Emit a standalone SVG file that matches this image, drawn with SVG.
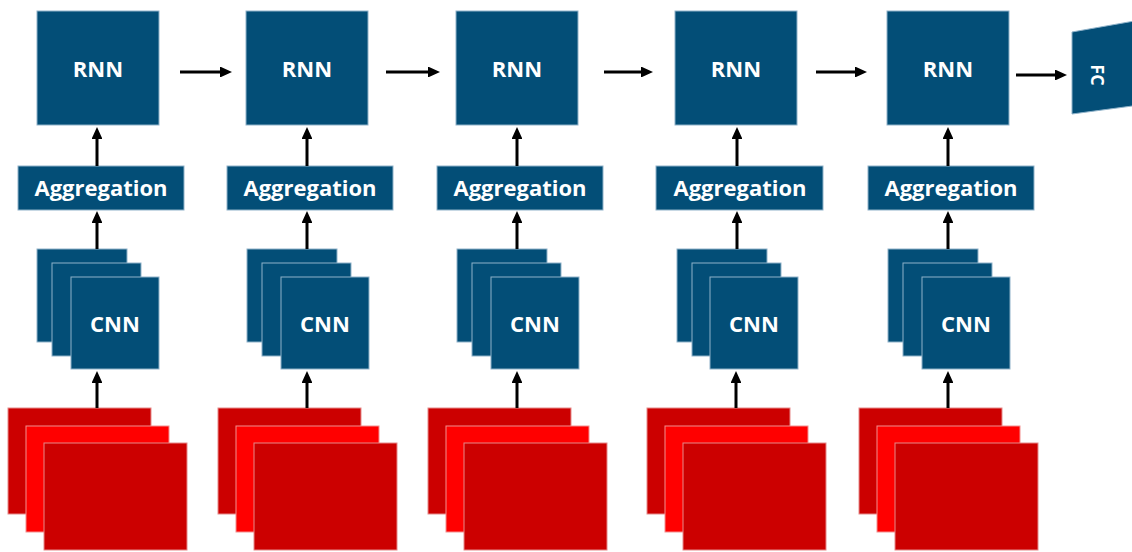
<svg xmlns="http://www.w3.org/2000/svg" width="1132" height="552" viewBox="0 0 1132 552">
<defs>
<style>
.b{fill:#034e77;stroke:#8fb2c9;stroke-width:1}
.rd{fill:#cc0000;stroke:#e58a8a;stroke-width:1}
.rb{fill:#ff0000;stroke:#f29090;stroke-width:1}
.t{font-family:"Open Sans","Liberation Sans",sans-serif;font-weight:bold;fill:#ffffff;text-anchor:middle}
.a{stroke:#000;stroke-width:3;fill:none}
</style>
<marker id="ah" viewBox="0 -5 12 10" refX="1" refY="0" markerWidth="12" markerHeight="10" markerUnits="userSpaceOnUse" orient="auto">
<path d="M0,-5.5 L12,0 L0,5.5 z" fill="#000"/>
</marker>
</defs>
<rect width="1132" height="552" fill="#ffffff"/>

<g id="col1">
<g id="rnn1"><rect class="b" x="37" y="11" width="122" height="114"/><text class="t" x="98" y="77" font-size="22">RNN</text></g>
<g id="agg1"><rect class="b" x="18" y="166" width="166" height="44"/><text class="t" x="101" y="196" font-size="22">Aggregation</text></g>
<g id="cnn1"><rect class="b" x="37" y="249" width="90" height="93"/><rect class="b" x="52" y="263" width="89" height="93"/><rect class="b" x="71" y="277" width="88" height="92"/><text class="t" x="115" y="332" font-size="22">CNN</text></g>
<g id="frames1"><rect class="rd" x="8" y="408" width="143" height="106"/><rect class="rb" x="26" y="426" width="143" height="106"/><rect class="rd" x="44" y="443" width="143" height="107"/></g>
</g>

<g id="col2">
<g id="rnn2"><rect class="b" x="246" y="11" width="122" height="114"/><text class="t" x="307" y="77" font-size="22">RNN</text></g>
<g id="agg2"><rect class="b" x="227" y="166" width="166" height="44"/><text class="t" x="310" y="196" font-size="22">Aggregation</text></g>
<g id="cnn2"><rect class="b" x="247" y="249" width="90" height="93"/><rect class="b" x="262" y="263" width="89" height="93"/><rect class="b" x="281" y="277" width="88" height="92"/><text class="t" x="325" y="332" font-size="22">CNN</text></g>
<g id="frames2"><rect class="rd" x="218" y="408" width="143" height="106"/><rect class="rb" x="236" y="426" width="143" height="106"/><rect class="rd" x="254" y="443" width="143" height="107"/></g>
</g>

<g id="col3">
<g id="rnn3"><rect class="b" x="456" y="11" width="122" height="114"/><text class="t" x="517" y="77" font-size="22">RNN</text></g>
<g id="agg3"><rect class="b" x="437" y="166" width="166" height="44"/><text class="t" x="520" y="196" font-size="22">Aggregation</text></g>
<g id="cnn3"><rect class="b" x="457" y="249" width="90" height="93"/><rect class="b" x="472" y="263" width="89" height="93"/><rect class="b" x="491" y="277" width="88" height="92"/><text class="t" x="535" y="332" font-size="22">CNN</text></g>
<g id="frames3"><rect class="rd" x="428" y="408" width="143" height="106"/><rect class="rb" x="446" y="426" width="143" height="106"/><rect class="rd" x="464" y="443" width="143" height="107"/></g>
</g>

<g id="col4">
<g id="rnn4"><rect class="b" x="675" y="11" width="122" height="114"/><text class="t" x="736" y="77" font-size="22">RNN</text></g>
<g id="agg4"><rect class="b" x="656" y="166" width="167" height="44"/><text class="t" x="740" y="196" font-size="22">Aggregation</text></g>
<g id="cnn4"><rect class="b" x="677" y="249" width="90" height="93"/><rect class="b" x="692" y="263" width="89" height="93"/><rect class="b" x="710" y="277" width="88" height="92"/><text class="t" x="754" y="332" font-size="22">CNN</text></g>
<g id="frames4"><rect class="rd" x="647" y="408" width="143" height="106"/><rect class="rb" x="665" y="426" width="143" height="106"/><rect class="rd" x="683" y="443" width="143" height="107"/></g>
</g>

<g id="col5">
<g id="rnn5"><rect class="b" x="887" y="11" width="122" height="114"/><text class="t" x="948" y="77" font-size="22">RNN</text></g>
<g id="agg5"><rect class="b" x="868" y="166" width="166" height="44"/><text class="t" x="951" y="196" font-size="22">Aggregation</text></g>
<g id="cnn5"><rect class="b" x="888" y="249" width="90" height="93"/><rect class="b" x="903" y="263" width="89" height="93"/><rect class="b" x="922" y="277" width="88" height="92"/><text class="t" x="966" y="332" font-size="22">CNN</text></g>
<g id="frames5"><rect class="rd" x="859" y="408" width="143" height="106"/><rect class="rb" x="877" y="426" width="143" height="106"/><rect class="rd" x="895" y="443" width="143" height="107"/></g>
</g>

<g id="fc">
<polygon class="b" points="1072,32 1140,20 1140,105 1072,114"/>
<text class="t" x="0" y="0" font-size="18" transform="translate(1097,75) rotate(90)" dy="6.5">FC</text>
</g>

<g id="connectors">
<line class="a" x1="180" y1="72" x2="221" y2="72" marker-end="url(#ah)"/>
<line class="a" x1="386" y1="72" x2="429" y2="72" marker-end="url(#ah)"/>
<line class="a" x1="604" y1="72" x2="642" y2="72" marker-end="url(#ah)"/>
<line class="a" x1="816" y1="72" x2="856" y2="72" marker-end="url(#ah)"/>
<line class="a" x1="1016" y1="75" x2="1056" y2="75" marker-end="url(#ah)"/>

<line class="a" x1="97" y1="166" x2="97" y2="138" marker-end="url(#ah)"/>
<line class="a" x1="97" y1="249" x2="97" y2="222" marker-end="url(#ah)"/>
<line class="a" x1="97" y1="408" x2="97" y2="382" marker-end="url(#ah)"/>

<line class="a" x1="307" y1="166" x2="307" y2="138" marker-end="url(#ah)"/>
<line class="a" x1="307" y1="249" x2="307" y2="222" marker-end="url(#ah)"/>
<line class="a" x1="307" y1="408" x2="307" y2="382" marker-end="url(#ah)"/>

<line class="a" x1="517" y1="166" x2="517" y2="138" marker-end="url(#ah)"/>
<line class="a" x1="517" y1="249" x2="517" y2="222" marker-end="url(#ah)"/>
<line class="a" x1="517" y1="408" x2="517" y2="382" marker-end="url(#ah)"/>

<line class="a" x1="737" y1="166" x2="737" y2="138" marker-end="url(#ah)"/>
<line class="a" x1="737" y1="249" x2="737" y2="222" marker-end="url(#ah)"/>
<line class="a" x1="736" y1="408" x2="736" y2="382" marker-end="url(#ah)"/>

<line class="a" x1="948" y1="166" x2="948" y2="138" marker-end="url(#ah)"/>
<line class="a" x1="948" y1="249" x2="948" y2="222" marker-end="url(#ah)"/>
<line class="a" x1="948" y1="408" x2="948" y2="382" marker-end="url(#ah)"/>
</g>
</svg>
